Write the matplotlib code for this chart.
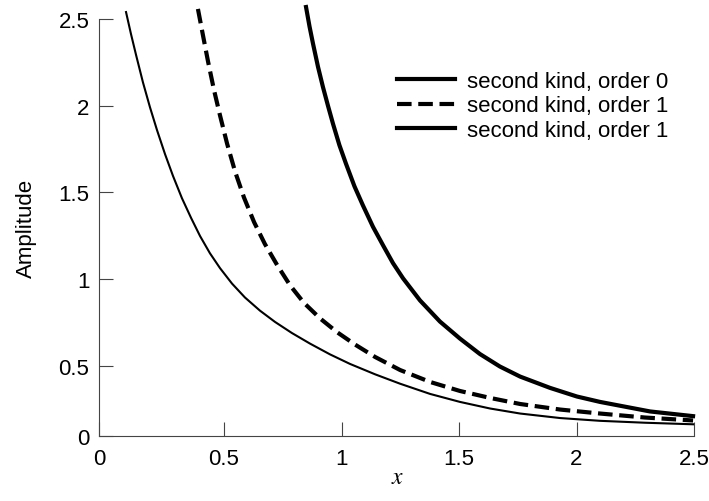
import numpy as np
import matplotlib
matplotlib.use('Agg')
import matplotlib.pyplot as plt

plt.rcParams['font.family'] = ['Liberation Sans', 'DejaVu Sans']
plt.rcParams['mathtext.fontset'] = 'stix'

# Values
x_order0 = [0.083, 0.104, 0.126, 0.155, 0.185, 0.215, 0.249, 0.283, 0.321, 0.360,
            0.398, 0.440, 0.483, 0.534, 0.589, 0.653, 0.717, 0.789, 0.866, 0.951,
            1.036, 1.143, 1.249, 1.377, 1.504, 1.632, 1.760, 1.930, 2.100, 2.291, 2.496]
y_order0 = [2.540, 2.414, 2.291, 2.135, 1.991, 1.859, 1.721, 1.595, 1.467, 1.353,
            1.249, 1.150, 1.064, 0.975, 0.895, 0.819, 0.754, 0.690, 0.629, 0.567,
            0.512, 0.452, 0.398, 0.339, 0.293, 0.255, 0.226, 0.200, 0.184, 0.173, 0.164]

x_order1 = [0.389, 0.411, 0.432, 0.457, 0.483, 0.513, 0.547, 0.585, 0.628, 0.674,
            0.726, 0.781, 0.840, 0.909, 0.981, 1.057, 1.143, 1.249, 1.377, 1.504,
            1.632, 1.760, 1.930, 2.100, 2.291, 2.496]
y_order1 = [2.558, 2.402, 2.255, 2.093, 1.944, 1.782, 1.621, 1.471, 1.329, 1.203,
            1.082, 0.965, 0.864, 0.774, 0.695, 0.624, 0.552, 0.477, 0.408, 0.356,
            0.316, 0.281, 0.249, 0.226, 0.203, 0.186]

x_order2 = [0.849, 0.864, 0.879, 0.900, 0.921, 0.943, 0.964, 0.991, 1.019, 1.055,
            1.091, 1.134, 1.177, 1.219, 1.262, 1.334, 1.419, 1.504, 1.589, 1.674,
            1.760, 1.887, 2.002, 2.100, 2.313, 2.496]
y_order2 = [2.569, 2.456, 2.356, 2.224, 2.108, 1.997, 1.895, 1.773, 1.666, 1.536,
            1.426, 1.302, 1.195, 1.093, 1.005, 0.878, 0.756, 0.658, 0.569, 0.497,
            0.439, 0.374, 0.324, 0.293, 0.238, 0.211]

labels = ['second kind, order 0', 'second kind, order 1', 'second kind, order 1']
tick_vals = [0.5, 1, 1.5, 2, 2.5]
tick_text = ['0.5', '1', '1.5', '2', '2.5']

x_min, y_min = -0.032, 0.0965
axis_color = '#444444'

fig = plt.figure(figsize=(7.09, 5.02), dpi=100)
ax = fig.add_axes([99 / 709, 65 / 502, 595 / 709, 417 / 502])

ax.plot(x_order0, y_order0, color='black', linewidth=1.5, clip_on=False, label=labels[0])
ax.plot(x_order1, y_order1, color='black', linewidth=3, dashes=(3.5, 1.6), clip_on=False, label=labels[1])
ax.plot(x_order2, y_order2, color='black', linewidth=3, clip_on=False, label=labels[2])

ax.set_xlim(x_min, 2.5)
ax.set_ylim(y_min, 2.5)

# Axis "0" labels sit on the spines
ax.set_xticks([x_min] + tick_vals)
ax.set_xticklabels(['0'] + tick_text)
ax.set_yticks([y_min] + tick_vals)
ax.set_yticklabels(['0'] + tick_text)
ax.tick_params(direction='in', length=10, width=0.8, color=axis_color, labelsize=16)
ax.tick_params(axis='x', pad=9)
ax.tick_params(axis='y', pad=7)

for side in ['top', 'right']:
    ax.spines[side].set_visible(False)
for side in ['left', 'bottom']:
    ax.spines[side].set_color(axis_color)
    ax.spines[side].set_linewidth(0.8)

ax.set_ylabel('Amplitude', fontsize=16)
ax.yaxis.set_label_coords(-0.104, 0.5)
ax.set_xlabel('$x$', fontsize=17)
ax.xaxis.set_label_coords(0.5025, -0.071)

leg = ax.legend(loc='upper left', bbox_to_anchor=(397 / 709, 1 - 72 / 502), bbox_transform=fig.transFigure,
                frameon=False, fontsize=16, handlelength=2.6, handletextpad=0.55, labelspacing=0.15,
                borderpad=0, borderaxespad=0)
for line in leg.get_lines():
    line.set_linewidth(3)

fig.savefig('out.png', dpi=100)
